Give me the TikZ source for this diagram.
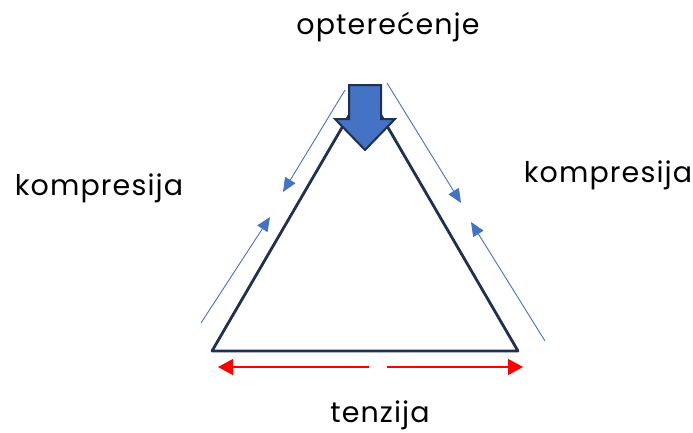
\documentclass[tikz,border=0pt]{standalone}
\usepackage{fontspec}
\setmainfont{Poppins}[LetterSpace=4]
\usepackage{tikz}
\usepackage{xcolor}
\usetikzlibrary{arrows.meta,positioning,calc}
\definecolor{navy}{HTML}{1F3050}
\definecolor{plava}{HTML}{4472C4}

\begin{document}
\begin{tikzpicture}[x=1pt, y=-1pt, font=\fontsize{28.5}{32}\selectfont,
    sila/.style={draw=plava, line width=0.9pt, -{Triangle[length=14pt,width=12pt]}},
    vlak/.style={draw=red, line width=1.3pt, -{Triangle[length=15pt,width=16pt]}}]
        \useasboundingbox (0,0) rectangle (693,432);
        % corners of the triangle
        \coordinate (A) at (212,351);
        \coordinate (B) at (518,351);
        \coordinate (C) at (365,88);
        \draw[navy, line width=2.8pt, line join=round] (A) -- (B) -- (C) -- cycle;
        % load arrow on top
        \draw[navy, line width=2pt, fill=plava, line join=miter]
            (349,85) -- (381,85) -- (381,119) -- (395,119) -- (365,150)
            -- (335,119) -- (349,119) -- cycle;
        % labels
        \node (load) at (388,34) [anchor=base] {optere\'cenje};
        \node (kl) at (99,195) [anchor=base] {kompresija};
        \node (kr) at (608,182) [anchor=base] {kompresija};
        \node (ten) at (380,422) [anchor=base] {tenzija};
        % compression arrows along the sides
        \coordinate (l1) at (201,323); \coordinate (l2) at (270,217);
        \coordinate (l3) at (345,90);  \coordinate (l4) at (283,192);
        \coordinate (r1) at (387,83);  \coordinate (r2) at (461,203);
        \coordinate (r3) at (545,341); \coordinate (r4) at (471,222);
        \foreach \a/\b in {l1/l2, l3/l4, r1/r2, r3/r4}
            \draw[sila] (\a) -- (\b);
        % tension arrows under the base
        \coordinate (t1) at (369,367); \coordinate (t2) at (218,367);
        \coordinate (t3) at (387,367); \coordinate (t4) at (523,367);
        \draw[vlak] (t1) -- (t2);
        \draw[vlak] (t3) -- (t4);
    \end{tikzpicture}
\end{document}
